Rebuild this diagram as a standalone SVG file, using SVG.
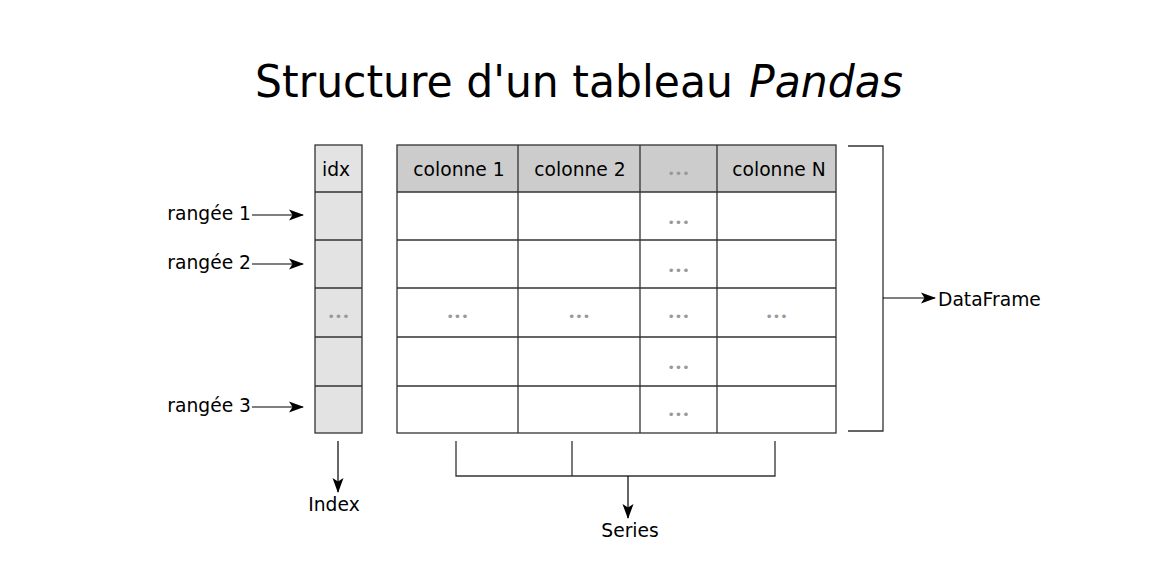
<svg xmlns="http://www.w3.org/2000/svg" width="1163" height="585" viewBox="0 0 1163 585">
<style>
  .t { font-family: "DejaVu Sans", Verdana, sans-serif; fill: #000; }
  .lbl { font-size: 18.7px; }
  .ctr { text-anchor: middle; }
  .dots { font-family: "DejaVu Sans", Verdana, sans-serif; font-size: 12.5px; fill: #999; text-anchor: middle; }
  .grid { stroke: #333; stroke-width: 1.3; fill: none; }
  .conn { stroke: #000; stroke-width: 1.2; fill: none; }
</style>
<defs>
  <marker id="arr" viewBox="0 0 15 12" refX="14" refY="6" markerWidth="15" markerHeight="12" markerUnits="userSpaceOnUse" orient="auto">
    <path d="M0,0.5 L15,6 L0,11.5 L3.5,6 Z" fill="#000"/>
  </marker>
</defs>
<rect width="1163" height="585" fill="#fff"/>

<g id="title">
  <text class="t" x="255" y="97" font-size="45" textLength="478" lengthAdjust="spacingAndGlyphs">Structure d'un tableau</text>
  <text class="t" x="749" y="97" font-size="45" font-style="italic" textLength="154" lengthAdjust="spacingAndGlyphs">Pandas</text>
</g>

<g id="index-column">
  <rect x="315" y="145" width="47" height="288" fill="#e3e3e3" stroke="#333" stroke-width="1.3"/>
  <path class="grid" d="M315,192 H362 M315,240 H362 M315,288 H362 M315,337 H362 M315,386 H362"/>
  <text class="t lbl ctr" x="336" y="176">idx</text>
  <text class="dots" x="338.5" y="320.5">•••</text>
</g>

<g id="table">
  <rect x="397" y="145" width="439" height="47" fill="#cccccc"/>
  <rect x="397" y="145" width="439" height="288" class="grid"/>
  <path class="grid" d="M397,192 H836 M397,240 H836 M397,288 H836 M397,337 H836 M397,386 H836 M518,145 V433 M640,145 V433 M717,145 V433"/>
  <text class="t lbl ctr" x="459" y="176">colonne 1</text>
  <text class="t lbl ctr" x="580" y="176">colonne 2</text>
  <text class="dots" x="678.5" y="177.5">•••</text>
  <text class="t lbl ctr" x="779" y="176">colonne N</text>
  <text class="dots" x="678.5" y="226.5">•••</text>
  <text class="dots" x="678.5" y="274.5">•••</text>
  <text class="dots" x="457.5" y="320.5">•••</text>
  <text class="dots" x="579" y="320.5">•••</text>
  <text class="dots" x="678.5" y="320.5">•••</text>
  <text class="dots" x="776.5" y="320.5">•••</text>
  <text class="dots" x="678.5" y="371.5">•••</text>
  <text class="dots" x="678.5" y="418.5">•••</text>
</g>

<g id="labels">
  <text class="t lbl" x="251" y="220" text-anchor="end">rangée 1</text>
  <text class="t lbl" x="251" y="269" text-anchor="end">rangée 2</text>
  <text class="t lbl" x="251" y="412" text-anchor="end">rangée 3</text>
  <text class="t lbl ctr" x="334" y="511">Index</text>
  <text class="t lbl ctr" x="630" y="537">Series</text>
  <text class="t lbl" x="938" y="306">DataFrame</text>
</g>

<g id="connectors">
  <path class="conn" d="M252,215 H303" marker-end="url(#arr)"/>
  <path class="conn" d="M252,264 H303" marker-end="url(#arr)"/>
  <path class="conn" d="M252,407 H303" marker-end="url(#arr)"/>
  <path class="conn" d="M338,441 V492" marker-end="url(#arr)"/>
  <path class="grid" d="M848,146 H883 V431 H848"/>
  <path class="conn" d="M883,298 H935" marker-end="url(#arr)"/>
  <path class="grid" d="M456,441 V476 H775 V441 M572,441 V476"/>
  <path class="conn" d="M628,476 V518" marker-end="url(#arr)"/>
</g>
</svg>
